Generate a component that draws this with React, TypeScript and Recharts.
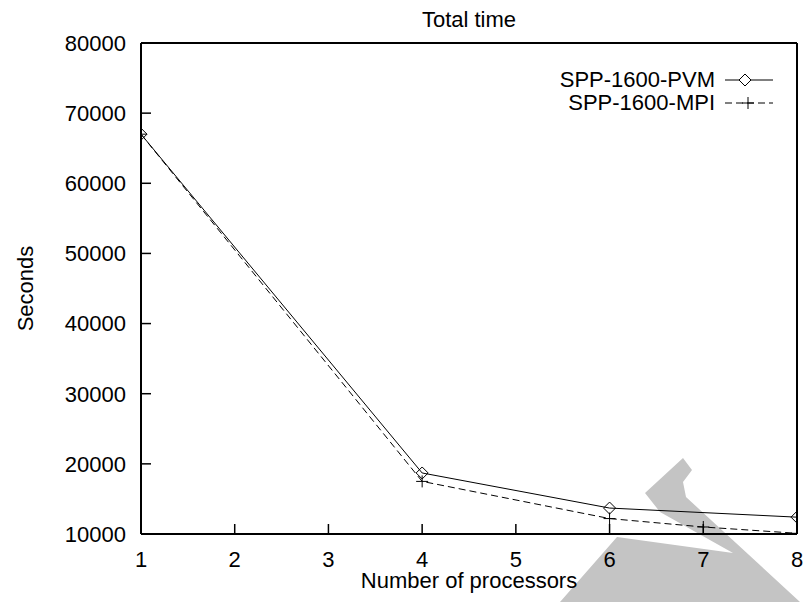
import { CartesianGrid, Label, Legend, Line, LineChart, XAxis, YAxis } from 'recharts';

// total wall time, seconds, per processor count
const seriesNames = ['SPP-1600-PVM', 'SPP-1600-MPI'];
const processorsPvm = [1, 4, 6, 8];
const secondsPvm = [67000, 18700, 13700, 12400];
const processorsMpi = [1, 4, 6, 7, 8];
const secondsMpi = [67000, 17500, 12200, 11000, 10100];
const xTicks = [1, 2, 3, 4, 5, 6, 7, 8];
const yTicks = [10000, 20000, 30000, 40000, 50000, 60000, 70000, 80000];

const pvmData = processorsPvm.map((p, i) => ({ procs: p, secs: secondsPvm[i] }));
const mpiData = processorsMpi.map((p, i) => ({ procs: p, secs: secondsMpi[i] }));

const FONT = '"Liberation Sans", Arial, sans-serif';
const tickStyle = { fill: '#000', fontSize: 22, fontFamily: FONT };
const axisLine = { stroke: '#000', strokeWidth: 2 };
const tickLine = { stroke: '#000', strokeWidth: 1.5 };

function diamondPath(cx: number, cy: number, r = 6) {
  return `M${cx},${cy - r}L${cx + r},${cy}L${cx},${cy + r}L${cx - r},${cy}Z`;
}

function plusPath(cx: number, cy: number, r = 6) {
  return `M${cx - r},${cy}H${cx + r}M${cx},${cy - r}V${cy + r}`;
}

const DiamondDot = (props: any) => (
  <path key={`pvm-${props.index}`} d={diamondPath(props.cx, props.cy)} fill="none" stroke="#000" strokeWidth={1} />
);

const PlusDot = (props: any) => (
  <path key={`mpi-${props.index}`} d={plusPath(props.cx, props.cy)} fill="none" stroke="#000" strokeWidth={1} />
);

// gnuplot-style key: label on the left, line sample with marker on the right
const KeyBox = () => (
  <svg width={250} height={50} style={{ display: 'block', overflow: 'visible' }}>
    <text x={175} y={22} textAnchor="end" fontSize={22} fontFamily={FONT} fill="#000">{seriesNames[0]}</text>
    <line x1={185} x2={233} y1={15} y2={15} stroke="#000" strokeWidth={1} />
    <path d={diamondPath(205, 15)} fill="#fff" stroke="#000" strokeWidth={1} />
    <text x={175} y={45} textAnchor="end" fontSize={22} fontFamily={FONT} fill="#000">{seriesNames[1]}</text>
    <line x1={185} x2={233} y1={38} y2={38} stroke="#000" strokeWidth={1} strokeDasharray="7 4" />
    <path d={plusPath(208, 38)} stroke="#000" strokeWidth={1} />
  </svg>
);

const SecondsLabel = (props: any) => {
  const vb = props.viewBox;
  const x = vb.x + 25;
  const y = vb.y + vb.height / 2;
  return (
    <text x={x} y={y} transform={`rotate(-90 ${x} ${y})`} textAnchor="middle" dominantBaseline="central"
      fontSize={22} fontFamily={FONT} fill="#000">Seconds</text>
  );
};

// faint stamp behind the plot, lower right
const Stamp = () => (
  <svg width={809} height={602} style={{ position: 'absolute', left: 0, top: 0 }}>
    <polygon
      points="645,493 683,458 692,470 683,482 686,497 800,602 560,602 617,537 733,553 660,512"
      fill="#c4c4c4"
    />
  </svg>
);

export default function App() {
  return (
    <div style={{ position: 'absolute', left: 0, top: 0, width: 809, height: 602, background: '#fff' }}>
      <Stamp />
      <div style={{ position: 'absolute', left: 0, top: 0 }}>
        <LineChart width={809} height={602} margin={{ top: 0, right: 0, bottom: 0, left: 0 }}>
          <CartesianGrid stroke="none" />
          <XAxis
            xAxisId="bottom" dataKey="procs" type="number" domain={[1, 8]} ticks={xTicks}
            allowDataOverflow height={68} tick={tickStyle} tickSize={-10} tickMargin={27}
            axisLine={axisLine} tickLine={tickLine}
          >
            <Label value="Number of processors" position="insideBottom" offset={14}
              style={{ fill: '#000', fontSize: 22, fontFamily: FONT }} />
          </XAxis>
          <XAxis
            xAxisId="top" orientation="top" type="number" domain={[1, 8]} ticks={xTicks}
            allowDataOverflow height={43} tick={false} tickSize={-10}
            axisLine={axisLine} tickLine={tickLine}
          >
            <Label value="Total time" position="insideTop" offset={11}
              style={{ fill: '#000', fontSize: 22, fontFamily: FONT }} />
          </XAxis>
          <YAxis
            yAxisId="left" type="number" domain={[10000, 80000]} ticks={yTicks} allowDataOverflow
            width={141} tick={tickStyle} tickSize={-10} tickMargin={25}
            axisLine={axisLine} tickLine={tickLine}
          >
            <Label content={SecondsLabel} />
          </YAxis>
          <YAxis
            yAxisId="right" orientation="right" type="number" domain={[10000, 80000]} ticks={yTicks}
            allowDataOverflow width={12} tick={false} tickSize={-10}
            axisLine={axisLine} tickLine={tickLine}
          />
          <Legend
            layout="vertical" align="center" verticalAlign="middle"
            content={KeyBox}
            wrapperStyle={{ position: 'absolute', left: 540, top: 65, width: 250, height: 50 }}
          />
          <Line
            xAxisId="bottom" yAxisId="left" data={pvmData} dataKey="secs" name={seriesNames[0]}
            type="linear" stroke="#000" strokeWidth={1} dot={DiamondDot} activeDot={false}
            isAnimationActive={false}
          />
          <Line
            xAxisId="bottom" yAxisId="left" data={mpiData} dataKey="secs" name={seriesNames[1]}
            type="linear" stroke="#000" strokeWidth={1} strokeDasharray="7 4" dot={PlusDot}
            activeDot={false} isAnimationActive={false}
          />
        </LineChart>
      </div>
    </div>
  );
}
